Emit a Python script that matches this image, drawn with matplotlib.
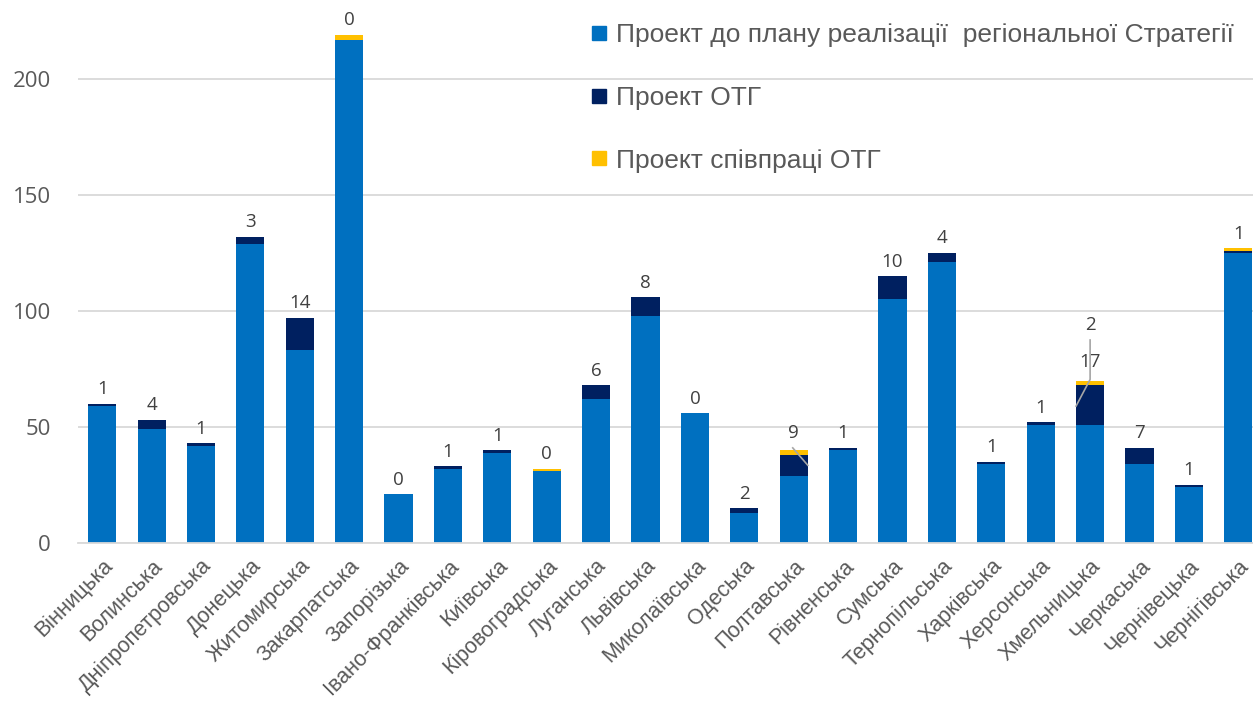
import matplotlib
matplotlib.use("Agg")
import matplotlib.pyplot as plt
from matplotlib.lines import Line2D
import numpy as np

regions = ["Вінницька", "Волинська", "Дніпропетровська", "Донецька", "Житомирська",
           "Закарпатська", "Запорізька", "Івано-Франківська", "Київська", "Кіровоградська",
           "Луганська", "Львівська", "Миколаївська", "Одеська", "Полтавська",
           "Рівненська", "Сумська", "Тернопільська", "Харківська", "Херсонська",
           "Хмельницька", "Черкаська", "Чернівецька", "Чернігівська"]
strategy = [59, 49, 42, 129, 83, 217, 21, 32, 39, 31, 62, 98, 56, 13, 29, 40, 105, 121, 34, 51, 51, 34, 24, 125]
otg = [1, 4, 1, 3, 14, 0, 0, 1, 1, 0, 6, 8, 0, 2, 9, 1, 10, 4, 1, 1, 17, 7, 1, 1]
coop = [0, 0, 0, 0, 0, 2, 0, 0, 0, 1, 0, 0, 0, 0, 2, 0, 0, 0, 0, 0, 2, 0, 0, 1]
series_names = ["Проект до плану реалізації  регіональної Стратегії", "Проект ОТГ", "Проект співпраці ОТГ"]
colors = ["#0070C0", "#002060", "#FFC000"]

W, H = 1253, 707
fig = plt.figure(figsize=(W / 100, H / 100), dpi=100)
# axes in pixel coords
x0, x1 = 77.5, 1263
y_axis, ymax = 543, 232
ppu = 2.32
ax = fig.add_axes([x0 / W, (H - y_axis) / H, (x1 - x0) / W, ymax * ppu / H])

x = np.arange(len(regions))
s = np.array(strategy)
o = np.array(otg)
c = np.array(coop)
bw = 0.57
ax.bar(x, s, bw, color=colors[0], zorder=2)
ax.bar(x, o, bw, bottom=s, color=colors[1], zorder=2)
ax.bar(x, c, bw, bottom=s + o, color=colors[2], zorder=2)

ax.set_xlim(-0.5, len(regions) - 0.5)
ax.set_ylim(0, ymax)
ax.set_yticks([0, 50, 100, 150, 200])
ax.yaxis.grid(True, color="#d9d9d9", lw=1.3, zorder=0)
ax.set_axisbelow(True)
for sp in ["top", "right", "left"]:
    ax.spines[sp].set_visible(False)
ax.spines["bottom"].set_color("#d9d9d9")
ax.spines["bottom"].set_linewidth(1.3)
ax.tick_params(axis="both", length=0)
ax.tick_params(axis="y", labelsize=16, labelcolor="#595959", pad=19)
for t in ax.get_yticklabels():
    t.set_fontfamily("Open Sans")
ax.set_xticks(x)
ax.set_xticklabels(regions, rotation=45, ha="right", rotation_mode="anchor",
                   fontsize=15.5, color="#595959", fontfamily="Liberation Sans")
ax.tick_params(axis="x", pad=9)

lab_kw = dict(fontsize=13.5, color="#404040", fontfamily="Open Sans", ha="center")
special = {14, 20}
for i in range(len(regions)):
    if i in special:
        continue
    tot = s[i] + o[i] + c[i]
    ax.annotate(str(otg[i]), (x[i], tot), xytext=(0, 4), textcoords="offset points",
                va="bottom", **lab_kw)

# Poltavska with leader line
i = 14
ax.text(x[i], 47.5, str(otg[i]), va="center", **lab_kw)
ax.plot([x[i] - 0.02, x[i] + bw / 2], [41, 33.5], color="#a6a6a6", lw=1.2, zorder=3)
# Khmelnytska with leader lines
i = 20
ax.text(x[i], 78, str(otg[i]), va="center", **lab_kw)
ax.text(x[i], 94, str(coop[i]), va="center", **lab_kw)
ax.plot([x[i], x[i], x[i] - bw / 2], [87.5, 70.5, 59], color="#a6a6a6", lw=1.2, zorder=3)

handles = [Line2D([], [], marker="s", color=col, linestyle="none", markersize=10) for col in colors]
leg = fig.legend(handles, series_names, loc="upper left",
                 bbox_to_anchor=(592 / W, 1 - 23 / H), frameon=False,
                 prop={"family": "Liberation Sans", "size": 19},
                 labelcolor="#595959", handlelength=0.55, handletextpad=0.35,
                 labelspacing=1.47, borderpad=0, borderaxespad=0)

fig.savefig("out.png", dpi=100)
